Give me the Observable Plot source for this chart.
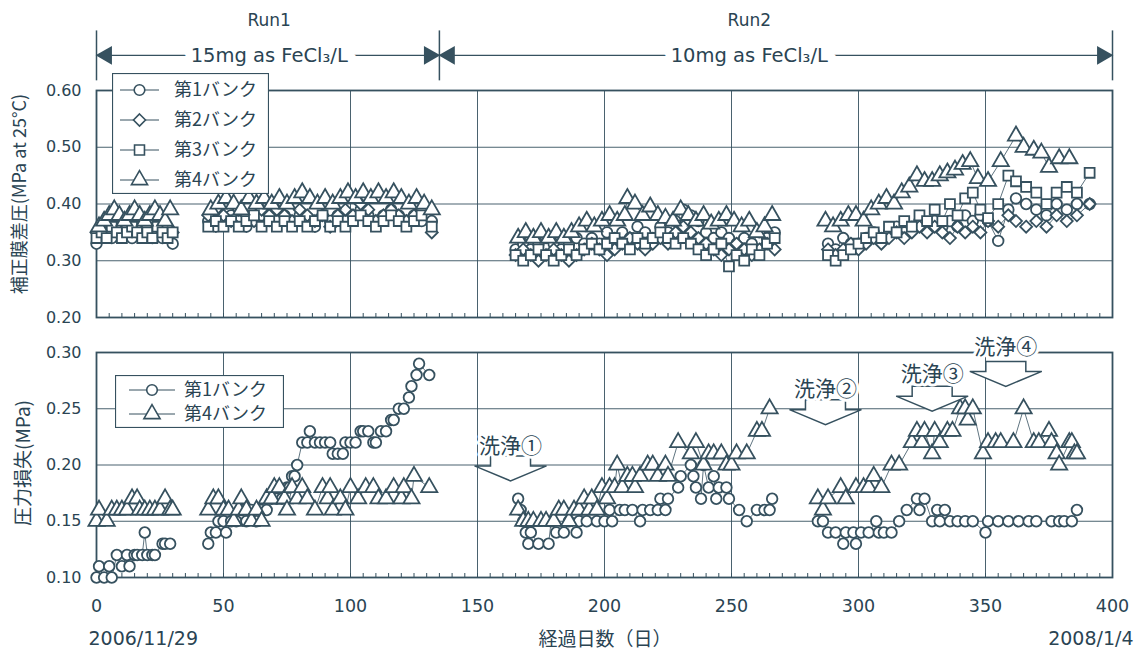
<!DOCTYPE html>
<html><head><meta charset="utf-8">
<script src="https://cdn.jsdelivr.net/npm/d3@7"></script>
<script src="https://cdn.jsdelivr.net/npm/@observablehq/plot@0.6"></script>
<style>
body{margin:0;background:#fff;}
#wrap{position:relative;width:1142px;height:651px;background:#fff;overflow:hidden;}
#top,#bot,.leg{position:absolute;left:0;}
#top{top:0}
#bot{top:328px}
.lab{position:absolute;width:0;height:0;}
.lab span{position:absolute;left:0;top:0;white-space:nowrap;transform:translate(-50%,-50%);font-family:'Noto Sans CJK JP','DejaVu Sans',sans-serif;color:#2a4453;}
.lab.v span{transform:translate(-50%,-50%) rotate(-90deg);}
</style></head><body><div id="wrap"><div id="top"></div><div id="bot"></div></div>
<script>
// ---------- DATA ----------
// Top panel: corrected TMP (MPa at 25°C); banks 1-3 share sampling days
const tmpDays = [0,2,4,6,8,10,12,14,16,18,20,22,24,26,28,30,
  44,47,50,53,56,59,62,65,68,71,74,77,80,83,86,89,92,95,98,101,104,107,110,113,116,119,122,125,128,132,
  165,168,171,174,177,180,183,186,189,192,195,198,201,204,207,210,213,216,219,222,225,228,231,234,237,240,243,246,249,252,255,258,261,264,267,
  288,291,294,297,300,303,306,309,312,315,318,321,324,327,330,333,336,339,342,345,348,351,355,359,362,366,370,374,378,382,386,391];
const tmpBank1 = [0.33,0.34,0.35,0.34,0.35,0.36,0.35,0.34,0.35,0.36,0.35,0.34,0.35,0.34,0.35,0.33,
  0.37,0.36,0.37,0.38,0.37,0.36,0.37,0.38,0.37,0.37,0.38,0.37,0.38,0.37,0.36,0.38,0.37,0.38,0.37,0.38,0.39,0.38,0.37,0.38,0.39,0.38,0.37,0.38,0.37,0.37,
  0.32,0.33,0.32,0.33,0.34,0.33,0.32,0.33,0.34,0.33,0.34,0.33,0.35,0.34,0.35,0.34,0.36,0.35,0.34,0.36,0.35,0.37,0.39,0.38,0.37,0.35,0.34,0.35,0.34,0.33,0.34,0.33,0.35,0.34,0.35,
  0.33,0.32,0.34,0.33,0.33,0.34,0.35,0.34,0.35,0.36,0.35,0.36,0.37,0.36,0.37,0.36,0.37,0.36,0.38,0.37,0.38,0.37,0.335,0.39,0.41,0.40,0.39,0.38,0.40,0.39,0.40,0.40];
const tmpBank2 = [0.35,0.36,0.35,0.37,0.36,0.35,0.36,0.37,0.36,0.35,0.36,0.35,0.36,0.37,0.36,0.35,
  0.38,0.39,0.38,0.37,0.39,0.38,0.37,0.39,0.38,0.39,0.38,0.37,0.39,0.38,0.37,0.38,0.36,0.38,0.39,0.38,0.40,0.39,0.37,0.38,0.39,0.38,0.37,0.38,0.39,0.35,
  0.31,0.32,0.31,0.30,0.31,0.32,0.31,0.30,0.31,0.32,0.33,0.32,0.31,0.32,0.33,0.34,0.33,0.32,0.33,0.34,0.33,0.35,0.36,0.35,0.34,0.33,0.32,0.31,0.32,0.33,0.32,0.31,0.32,0.33,0.32,
  0.32,0.31,0.32,0.33,0.32,0.33,0.34,0.33,0.34,0.35,0.34,0.35,0.36,0.35,0.36,0.35,0.34,0.36,0.35,0.36,0.35,0.37,0.36,0.38,0.37,0.36,0.37,0.36,0.38,0.37,0.38,0.40];
const tmpBank3 = [0.34,0.35,0.34,0.36,0.35,0.34,0.35,0.36,0.35,0.34,0.35,0.34,0.36,0.35,0.34,0.35,
  0.36,0.37,0.36,0.37,0.36,0.37,0.38,0.36,0.37,0.36,0.37,0.36,0.37,0.36,0.37,0.38,0.36,0.37,0.36,0.37,0.38,0.37,0.36,0.37,0.38,0.37,0.36,0.37,0.38,0.36,
  0.31,0.30,0.31,0.32,0.31,0.30,0.31,0.32,0.31,0.32,0.33,0.32,0.33,0.34,0.33,0.32,0.34,0.33,0.34,0.35,0.34,0.33,0.34,0.33,0.32,0.31,0.32,0.33,0.29,0.31,0.30,0.32,0.31,0.33,0.34,
  0.31,0.30,0.31,0.32,0.33,0.34,0.35,0.34,0.36,0.35,0.37,0.36,0.38,0.37,0.39,0.37,0.40,0.38,0.41,0.42,0.39,0.375,0.40,0.45,0.44,0.43,0.42,0.40,0.42,0.43,0.42,0.455];
const tmpDays4 = [1,3,5,7,9,11,13,15,17,19,21,23,25,27,29,
  45,48,51,54,57,60,63,66,69,72,75,78,81,84,87,90,93,96,99,102,105,108,111,114,117,120,123,126,129,132,
  166,169,172,175,178,181,184,187,190,193,196,199,202,205,208,209,212,215,218,221,224,227,230,233,236,239,242,245,248,251,254,257,260,263,266,
  287,290,293,296,299,302,305,308,311,314,317,320,323,326,329,332,335,338,341,344,347,351,356,362,365,369,372,375,379,383];
const tmpBank4 = [0.36,0.37,0.38,0.39,0.38,0.37,0.38,0.39,0.38,0.37,0.38,0.39,0.38,0.37,0.39,
  0.39,0.40,0.41,0.40,0.39,0.41,0.40,0.41,0.40,0.41,0.40,0.41,0.42,0.41,0.40,0.41,0.40,0.41,0.42,0.41,0.42,0.41,0.42,0.41,0.42,0.41,0.40,0.41,0.40,0.39,
  0.34,0.35,0.34,0.35,0.34,0.35,0.34,0.35,0.36,0.37,0.36,0.37,0.38,0.37,0.38,0.41,0.40,0.38,0.395,0.38,0.375,0.37,0.39,0.38,0.37,0.38,0.365,0.37,0.38,0.37,0.36,0.37,0.35,0.36,0.38,
  0.37,0.36,0.37,0.38,0.38,0.37,0.39,0.40,0.41,0.40,0.42,0.43,0.45,0.44,0.44,0.45,0.455,0.46,0.47,0.475,0.445,0.44,0.475,0.52,0.50,0.495,0.49,0.465,0.48,0.48];

// Bottom panel: pressure loss (MPa)
const lossDays1 = [0,1,3,5,6,8,10,12,13,15,16,18,19,20,22,23,26,27,29,
  44,45,47,48,50,51,53,55,57,59,61,63,65,67,69,71,73,75,76,77,78,79,81,83,84,86,88,90,92,93,95,97,98,100,102,104,105,107,109,110,112,114,116,117,119,121,123,124,126,127,131,
  166,167,168,169,170,171,174,178,179,181,184,186,189,190,193,197,200,202,203,206,208,211,214,215,218,221,222,224,225,229,230,234,235,236,238,239,241,243,244,245,248,249,253,256,260,263,265,266,
  284,286,288,291,294,295,298,299,301,304,307,308,310,313,316,319,323,324,326,329,331,332,334,336,339,342,345,350,351,355,359,363,367,370,376,379,381,384,386];
const lossBank1 = [0.10,0.11,0.10,0.11,0.10,0.12,0.11,0.12,0.11,0.12,0.12,0.12,0.14,0.12,0.12,0.12,0.13,0.13,0.13,
  0.13,0.14,0.14,0.15,0.15,0.14,0.15,0.15,0.16,0.15,0.16,0.15,0.16,0.16,0.17,0.17,0.17,0.18,0.18,0.19,0.19,0.20,0.22,0.22,0.23,0.22,0.22,0.22,0.22,0.21,0.21,0.21,0.22,0.22,0.22,0.23,0.23,0.23,0.22,0.22,0.23,0.23,0.24,0.24,0.25,0.25,0.26,0.27,0.28,0.29,0.28,
  0.17,0.16,0.15,0.14,0.13,0.14,0.13,0.13,0.15,0.14,0.14,0.15,0.14,0.15,0.15,0.15,0.15,0.16,0.15,0.16,0.16,0.16,0.15,0.16,0.16,0.16,0.17,0.16,0.17,0.18,0.19,0.20,0.19,0.18,0.17,0.20,0.18,0.19,0.17,0.18,0.18,0.17,0.16,0.15,0.16,0.16,0.16,0.17,
  0.15,0.15,0.14,0.14,0.13,0.14,0.14,0.13,0.14,0.14,0.15,0.14,0.14,0.14,0.15,0.16,0.17,0.16,0.17,0.15,0.16,0.15,0.16,0.15,0.15,0.15,0.15,0.14,0.15,0.15,0.15,0.15,0.15,0.15,0.15,0.15,0.15,0.15,0.16];
const lossDays4 = [0,1,4,6,8,10,12,14,16,17,19,21,23,25,27,29,30,
  44,46,48,50,52,54,56,57,59,61,63,65,67,69,70,72,74,75,77,79,81,83,86,89,91,92,93,96,98,100,103,106,109,111,114,117,120,121,124,125,131,
  166,168,170,172,175,177,180,182,184,186,188,190,192,194,195,197,199,201,202,204,205,207,209,211,212,214,217,219,221,224,225,229,234,236,239,241,243,246,248,250,252,256,260,262,265,
  284,286,288,293,295,299,302,304,306,309,313,316,321,323,325,326,329,330,332,335,337,340,342,343,345,349,351,354,356,361,365,369,371,375,376,378,379,383,384,385,386];
const lossBank4 = [0.15,0.16,0.15,0.16,0.16,0.16,0.16,0.17,0.17,0.16,0.16,0.16,0.16,0.16,0.17,0.16,0.16,
  0.16,0.17,0.17,0.16,0.16,0.15,0.16,0.17,0.16,0.15,0.16,0.15,0.17,0.17,0.18,0.18,0.17,0.16,0.18,0.17,0.18,0.17,0.16,0.18,0.17,0.18,0.16,0.17,0.16,0.18,0.17,0.18,0.18,0.17,0.17,0.18,0.17,0.18,0.17,0.19,0.18,
  0.16,0.15,0.15,0.15,0.15,0.15,0.15,0.16,0.16,0.15,0.16,0.16,0.17,0.16,0.17,0.16,0.18,0.17,0.18,0.18,0.20,0.18,0.19,0.19,0.18,0.19,0.20,0.20,0.19,0.20,0.19,0.22,0.21,0.22,0.20,0.21,0.21,0.21,0.20,0.20,0.21,0.21,0.23,0.23,0.25,
  0.17,0.16,0.17,0.18,0.17,0.18,0.18,0.18,0.19,0.18,0.20,0.20,0.22,0.23,0.22,0.23,0.21,0.23,0.22,0.23,0.23,0.25,0.25,0.24,0.25,0.21,0.22,0.22,0.22,0.22,0.25,0.22,0.22,0.23,0.22,0.21,0.20,0.22,0.22,0.21,0.21];

// Annotations
const runBounds = [0, 135, 400];
const runNames = ["Run1", "Run2"];
const runDoses = ["15mg as FeCl\u2083/L", "10mg as FeCl\u2083/L"];
const runCenters = [68, 257];
const cleanNames = ["洗浄①", "洗浄②", "洗浄③", "洗浄④"];
const cleanDays = [163, 287, 329, 358];
const cleanArrowLevels = [0.197, 0.247, 0.259, 0.281];
const cleanTextLevels = [0.217, 0.267, 0.281, 0.305];
const bankNames = ["第1バンク", "第2バンク", "第3バンク", "第4バンク"];
const bankSymbols = ["circle", "diamond2", "square", "triangle"];
const dateLabels = ["2006/11/29", "2008/1/4"];
const topTitle = "補正膜差圧(MPa at 25°C)";
const botTitle = "圧力損失(MPa)";
const xTitle = "経過日数（日）";
const xMajor = [0, 50, 100, 150, 200, 250, 300, 350, 400];
const topTicks = [0.20, 0.30, 0.40, 0.50, 0.60];
const botTicks = [0.10, 0.15, 0.20, 0.25, 0.30];

// ---------- BUILD ----------
const ink = "#36515f";
const txt = "#2a4453";
const LAT = "'DejaVu Sans','Noto Sans CJK JP',sans-serif";
const CJK = "'Noto Sans CJK JP','DejaVu Sans',sans-serif";
const minor = d3.range(0, 401, 5);

function rows(days, vals, bank) {
  let seg = 0;
  return days.map((d, i) => {
    if (i > 0 && d - days[i - 1] > 10) seg++;
    return {day: d, v: vals[i], bank, seg: bank + "-" + seg};
  });
}
const topSeries = [
  rows(tmpDays, tmpBank1, 0), rows(tmpDays, tmpBank2, 1),
  rows(tmpDays, tmpBank3, 2), rows(tmpDays4, tmpBank4, 3)
];
const botSeries = [rows(lossDays1, lossBank1, 0), rows(lossDays4, lossBank4, 3)];
const symR = s => s === "triangle" ? 6 : s === "square" ? 5.6 : s === "diamond2" ? 5.4 : 5.3;

function seriesMarks(series) {
  const m = [];
  for (const s of series) m.push(Plot.line(s, {x: "day", y: "v", z: "seg", stroke: ink, strokeWidth: 0.8}));
  for (const s of series) {
    const sym = bankSymbols[s[0].bank];
    m.push(Plot.dot(s, {x: "day", y: "v", symbol: sym, r: symR(sym), fill: "white", stroke: ink, strokeWidth: 1.8}));
  }
  return m;
}
const gridStyle = {stroke: ink, strokeOpacity: 0.9, strokeWidth: 1};

// Top annotation data
const runs = runNames.map((n, i) => ({name: n, dose: runDoses[i], c: runCenters[i], a: runBounds[i], b: runBounds[i + 1]}));
const ARROW_Y = 0.662;

const topPlot = Plot.plot({
  width: 1142, height: 335,
  marginTop: 90, marginBottom: 18, marginLeft: 96, marginRight: 30,
  style: {fontFamily: LAT, fontSize: "16px", color: txt, background: "transparent", overflow: "visible"},
  x: {domain: [0, 400]},
  y: {domain: [0.2, 0.6]},
  marks: [
    Plot.gridX(xMajor.slice(1, -1), gridStyle),
    Plot.gridY([0.3, 0.4, 0.5], gridStyle),
    Plot.axisY({ticks: topTicks, tickFormat: d3.format(".2f"), tickSize: 0, tickPadding: 15, fontSize: 16, label: null}),
    Plot.axisX({ticks: minor, tickSize: 4, dy: -4, tickFormat: () => "", label: null, stroke: ink}),
    Plot.frame({stroke: ink, strokeWidth: 1.8}),
    ...seriesMarks(topSeries),
    // Run bracket
    Plot.ruleX(runBounds, {y1: 0.617, y2: 0.705, stroke: ink, strokeWidth: 1.5}),
    Plot.ruleY([ARROW_Y], {x1: 0, x2: 400, stroke: ink, strokeWidth: 1.3}),
    Plot.dot(runs, {x: "a", y: ARROW_Y, symbol: "triangle", rotate: -90, dx: 10, r: 7, fill: ink}),
    Plot.dot(runs, {x: "b", y: ARROW_Y, symbol: "triangle", rotate: 90, dx: -10, r: 7, fill: ink}),
    Plot.text(runs, {x: "c", y: ARROW_Y, text: "dose", fontSize: 19.5, fill: txt, stroke: "white", strokeWidth: 18, paintOrder: "stroke"}),
    Plot.text(runs, {x: "c", y: 0.723, text: "name", fontSize: 17, fill: txt})
  ]
});
document.getElementById("top").appendChild(topPlot);

// Cleaning arrow symbol
const blockArrow = {draw(ctx) {
  ctx.moveTo(-20, -12.5); ctx.lineTo(20, -12.5); ctx.lineTo(20, -2.5); ctx.lineTo(36, -2.5);
  ctx.lineTo(0, 12.5); ctx.lineTo(-36, -2.5); ctx.lineTo(-20, -2.5); ctx.closePath();
}};
const cleanings = cleanNames.map((n, i) => ({n, day: cleanDays[i], a: cleanArrowLevels[i], t: cleanTextLevels[i]}));
const dates = dateLabels.map((t, i) => ({t, x: i === 0 ? runBounds[0] : runBounds[2], y: botTicks[0]}));

const botPlot = Plot.plot({
  width: 1142, height: 323,
  marginTop: 24, marginBottom: 74, marginLeft: 96, marginRight: 30,
  style: {fontFamily: LAT, fontSize: "16px", color: txt, background: "transparent", overflow: "visible"},
  x: {domain: [0, 400]},
  y: {domain: [0.1, 0.3]},
  marks: [
    Plot.gridX(xMajor.slice(1, -1), gridStyle),
    Plot.gridY([0.15, 0.2, 0.25], gridStyle),
    Plot.axisY({ticks: botTicks, tickFormat: d3.format(".2f"), tickSize: 0, tickPadding: 15, fontSize: 16, label: null}),
    Plot.axisX({ticks: xMajor, tickSize: 0, tickPadding: 22, fontSize: 17.5, label: null}),
    Plot.axisX({ticks: minor, tickSize: 4, dy: -4, tickFormat: () => "", label: null, stroke: ink}),
    Plot.frame({stroke: ink, strokeWidth: 1.8}),
    ...seriesMarks(botSeries),
    Plot.dot(cleanings, {x: "day", y: "a", symbol: blockArrow, fill: "white", stroke: ink, strokeWidth: 1.5}),
    Plot.text(cleanings, {x: "day", y: "t", text: "n", fontFamily: CJK, fontSize: 21, fill: txt, stroke: "white", strokeWidth: 6, paintOrder: "stroke"}),
    Plot.text(dates.slice(0, 1), {x: "x", y: "y", text: "t", dy: 61, dx: -8, textAnchor: "start", fontSize: 19, fill: txt}),
    Plot.text(dates.slice(1), {x: "x", y: "y", text: "t", dy: 61, dx: 21, textAnchor: "end", fontSize: 19, fill: txt})
  ]
});
document.getElementById("bot").appendChild(botPlot);

// Axis titles (HTML)
function title(text, x, y, vertical, size) {
  const d = d3.select("#wrap").append("div").attr("class", "lab" + (vertical ? " v" : ""))
    .style("left", x + "px").style("top", y + "px");
  d.append("span").text(text).style("font-size", size + "px");
}
title(topTitle, 18, 194, true, 18);
title(botTitle, 21, 463, true, 19);
title(xTitle, 605, 637, false, 19);

// Legends (overlay svg)
function legend(left, top, w, h, items, rowY, lx1, lx2, tx) {
  const svg = d3.select("#wrap").append("svg").attr("class", "leg")
    .style("left", left + "px").style("top", top + "px").attr("width", w).attr("height", h);
  svg.append("rect").attr("x", 0.5).attr("y", 0.5).attr("width", w - 1).attr("height", h - 1)
    .attr("fill", "white").attr("stroke", ink).attr("stroke-width", 1.2);
  const symMap = {circle: d3.symbolCircle, diamond2: d3.symbolDiamond2, square: d3.symbolSquare, triangle: d3.symbolTriangle};
  items.forEach((b, i) => {
    const y = rowY[i];
    svg.append("line").attr("x1", lx1).attr("x2", lx2).attr("y1", y).attr("y2", y).attr("stroke", ink).attr("stroke-width", 1);
    const sym = bankSymbols[b];
    const r = symR(sym);
    svg.append("path").attr("d", d3.symbol(symMap[sym], Math.PI * r * r)())
      .attr("transform", `translate(${(lx1 + lx2) / 2},${y})`)
      .attr("fill", "white").attr("stroke", ink).attr("stroke-width", 1.6);
    svg.append("text").attr("x", tx).attr("y", y).attr("dy", "0.36em").text(bankNames[b])
      .attr("fill", txt).style("font-family", CJK).style("font-size", "18px");
  });
}
legend(112, 73, 157, 121, [0, 1, 2, 3], [17, 47, 77, 107], 8, 47, 62);
legend(115, 375, 169, 53, [0, 3], [15, 39], 14, 60, 69);
</script></body></html>
